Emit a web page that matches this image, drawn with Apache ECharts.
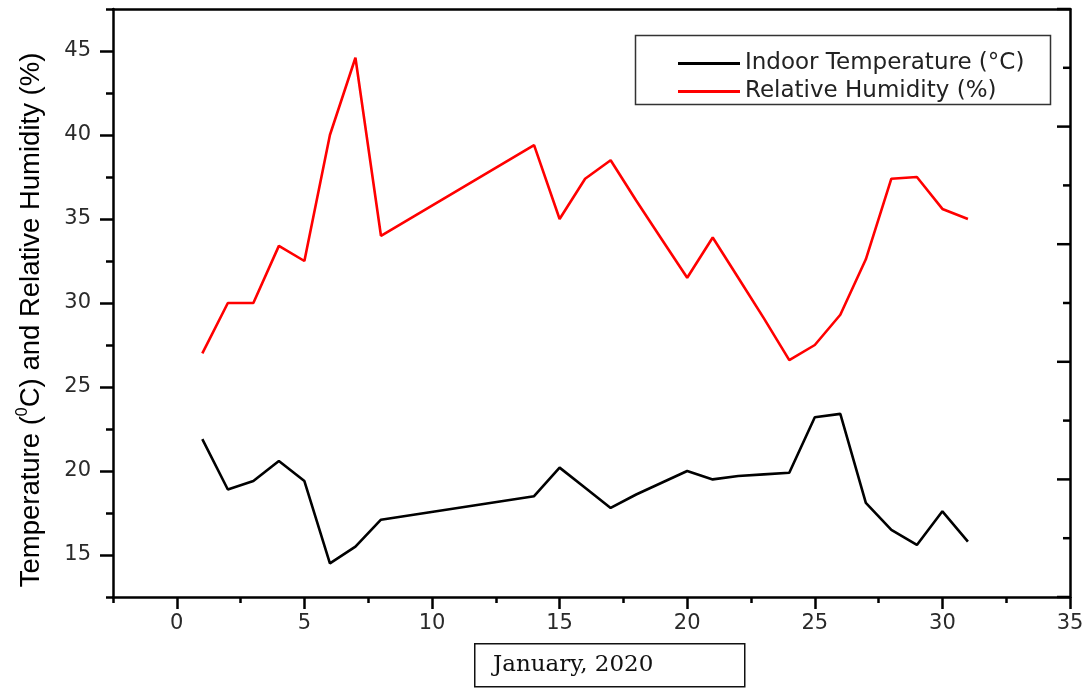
<!DOCTYPE html>
<html>
<head>
<meta charset="utf-8">
<title>Indoor Temperature and Relative Humidity, January 2020</title>
<script src="https://cdn.jsdelivr.net/npm/echarts@6/dist/echarts.min.js"></script>
<style>
  html, body { margin: 0; padding: 0; background: #fff; }
  #chart { width: 1092px; height: 688px; }
</style>
</head>
<body>
<div id="chart"></div>
<script>
// Days of January 2020 with readings (no readings on the 9th to the 13th)
const days = [1, 2, 3, 4, 5, 6, 7, 8, 14, 15, 16, 17, 18, 19, 20, 21, 22, 23, 24, 25, 26, 27, 28, 29, 30, 31];
// Indoor temperature (°C)
const temperature = [21.9, 18.9, 19.4, 20.6, 19.4, 14.5, 15.5, 17.1, 18.5, 20.2, 19.0, 17.8, 18.6, 19.3, 20.0, 19.5, 19.7, 19.8, 19.9, 23.2, 23.4, 18.1, 16.5, 15.6, 17.6, 15.8];
// Relative humidity (%)
const humidity = [27.0, 30.0, 30.0, 33.4, 32.5, 40.0, 44.6, 34.0, 39.4, 35.0, 37.4, 38.5, 36.1, 33.8, 31.5, 33.9, 31.5, 29.1, 26.6, 27.5, 29.3, 32.6, 37.4, 37.5, 35.6, 35.0];

// Tick values
const xMajor = [0, 5, 10, 15, 20, 25, 30, 35];
const xMinor = [-2.5, 2.5, 7.5, 12.5, 17.5, 22.5, 27.5, 32.5];
const yMajor = [15, 20, 25, 30, 35, 40, 45];
const yMinor = [12.5, 17.5, 22.5, 27.5, 32.5, 37.5, 42.5, 47.5];
// Right-hand frame ticks (five equal divisions of the y range, with half-steps)
const rMajor = [12.5, 19.5, 26.5, 33.5, 40.5, 47.5];
const rMinor = [16, 23, 30, 37, 44];

const seriesNames = ['Indoor Temperature (°C)', 'Relative Humidity (%)'];

const pair = (vals) => days.map((d, i) => [d, vals[i]]);

const AXIS_W = 2.5;
const lineStyleBlack = { color: '#000', width: AXIS_W };
const tickFont = { fontFamily: 'DejaVu Sans', fontSize: 21, color: '#2a2a2a' };

const chart = echarts.init(document.getElementById('chart'), null, { renderer: 'canvas' });

const baseGraphic = [
  // legend frame
  {
    type: 'rect', left: 633, top: 33, silent: true,
    shape: { width: 415, height: 69 },
    style: { fill: 'none', stroke: '#333', lineWidth: 1.5 }
  },
  // y-axis title
  {
    type: 'text', x: 31, y: 320, rotation: Math.PI / 2, silent: true,
    style: {
      text: '{a|Temperature (}{s|0}{a|C) and Relative Humidity (%)}',
      align: 'center', verticalAlign: 'middle',
      rich: {
        a: { fontFamily: 'Liberation Sans', fontSize: 27.5, color: '#1a1a1a', lineHeight: 32, verticalAlign: 'middle' },
        s: { fontFamily: 'Liberation Sans', fontSize: 16, color: '#1a1a1a', lineHeight: 32, verticalAlign: 'top' }
      }
    }
  },
  // x-axis caption box
  {
    type: 'rect', left: 474, top: 643, silent: true,
    shape: { width: 270, height: 43 },
    style: { fill: '#fff', stroke: '#111', lineWidth: 1.5 }
  },
  {
    type: 'text', x: 493, y: 665, silent: true,
    style: {
      text: 'January, 2020',
      fontFamily: 'DejaVu Serif', fontSize: 23, fill: '#111',
      align: 'left', verticalAlign: 'middle'
    }
  }
];

chart.setOption({
  backgroundColor: '#fff',
  animation: false,
  grid: { left: 113, right: 22, top: 9, bottom: 91, containLabel: false },
  xAxis: [
    {
      type: 'value', min: -2.5, max: 35, position: 'bottom',
      axisLine: { onZero: false, lineStyle: lineStyleBlack },
      axisTick: { customValues: xMajor, length: 12, lineStyle: lineStyleBlack },
      axisLabel: Object.assign({ customValues: xMajor, margin: 16 }, tickFont),
      splitLine: { show: false }
    },
    {
      type: 'value', min: -2.5, max: 35, position: 'bottom',
      axisLine: { show: false, onZero: false },
      axisTick: { customValues: xMinor, length: 6, lineStyle: lineStyleBlack },
      axisLabel: { show: false },
      splitLine: { show: false }
    },
    {
      type: 'value', min: -2.5, max: 35, position: 'top',
      axisLine: { onZero: false, lineStyle: lineStyleBlack },
      axisTick: { show: false },
      axisLabel: { show: false },
      splitLine: { show: false }
    }
  ],
  yAxis: [
    {
      type: 'value', min: 12.5, max: 47.5, position: 'left',
      axisLine: { onZero: false, lineStyle: lineStyleBlack },
      axisTick: { customValues: yMajor, length: 13, lineStyle: lineStyleBlack },
      axisLabel: Object.assign({ customValues: yMajor, margin: 22 }, tickFont),
      splitLine: { show: false }
    },
    {
      type: 'value', min: 12.5, max: 47.5, position: 'left',
      axisLine: { show: false, onZero: false },
      axisTick: { customValues: yMinor, length: 7, lineStyle: lineStyleBlack },
      axisLabel: { show: false },
      splitLine: { show: false }
    },
    {
      // right frame line only; its ticks are added below
      type: 'value', min: 12.5, max: 47.5, position: 'right',
      axisLine: { onZero: false, lineStyle: lineStyleBlack },
      axisTick: { show: false },
      axisLabel: { show: false },
      splitLine: { show: false }
    }
  ],
  legend: {
    orient: 'vertical',
    left: 673, top: 47,
    icon: 'rect',
    itemWidth: 62, itemHeight: 3, itemGap: 5,
    textStyle: { fontFamily: 'DejaVu Sans', fontSize: 23, color: '#222' },
    data: seriesNames
  },
  graphic: baseGraphic,
  series: [
    {
      name: seriesNames[0], type: 'line', xAxisIndex: 0, yAxisIndex: 0,
      data: pair(temperature),
      symbol: 'none', showSymbol: false,
      lineStyle: { color: '#000', width: 2.6 },
      itemStyle: { color: '#000' }
    },
    {
      name: seriesNames[1], type: 'line', xAxisIndex: 0, yAxisIndex: 0,
      data: pair(humidity),
      symbol: 'none', showSymbol: false,
      lineStyle: { color: '#ff0000', width: 2.6 },
      itemStyle: { color: '#ff0000' }
    }
  ]
});

// Inward ticks on the right frame, placed through the axis scales
const frameX = chart.convertToPixel({ xAxisIndex: 0 }, 35);
const inwardTick = (v, len) => {
  const py = chart.convertToPixel({ yAxisIndex: 0 }, v);
  return {
    type: 'line', silent: true,
    shape: { x1: frameX, y1: py, x2: frameX - len, y2: py },
    style: { stroke: '#000', lineWidth: AXIS_W }
  };
};
chart.setOption({
  graphic: baseGraphic
    .concat(rMajor.map((v) => inwardTick(v, 13)))
    .concat(rMinor.map((v) => inwardTick(v, 7)))
});
</script>
</body>
</html>
